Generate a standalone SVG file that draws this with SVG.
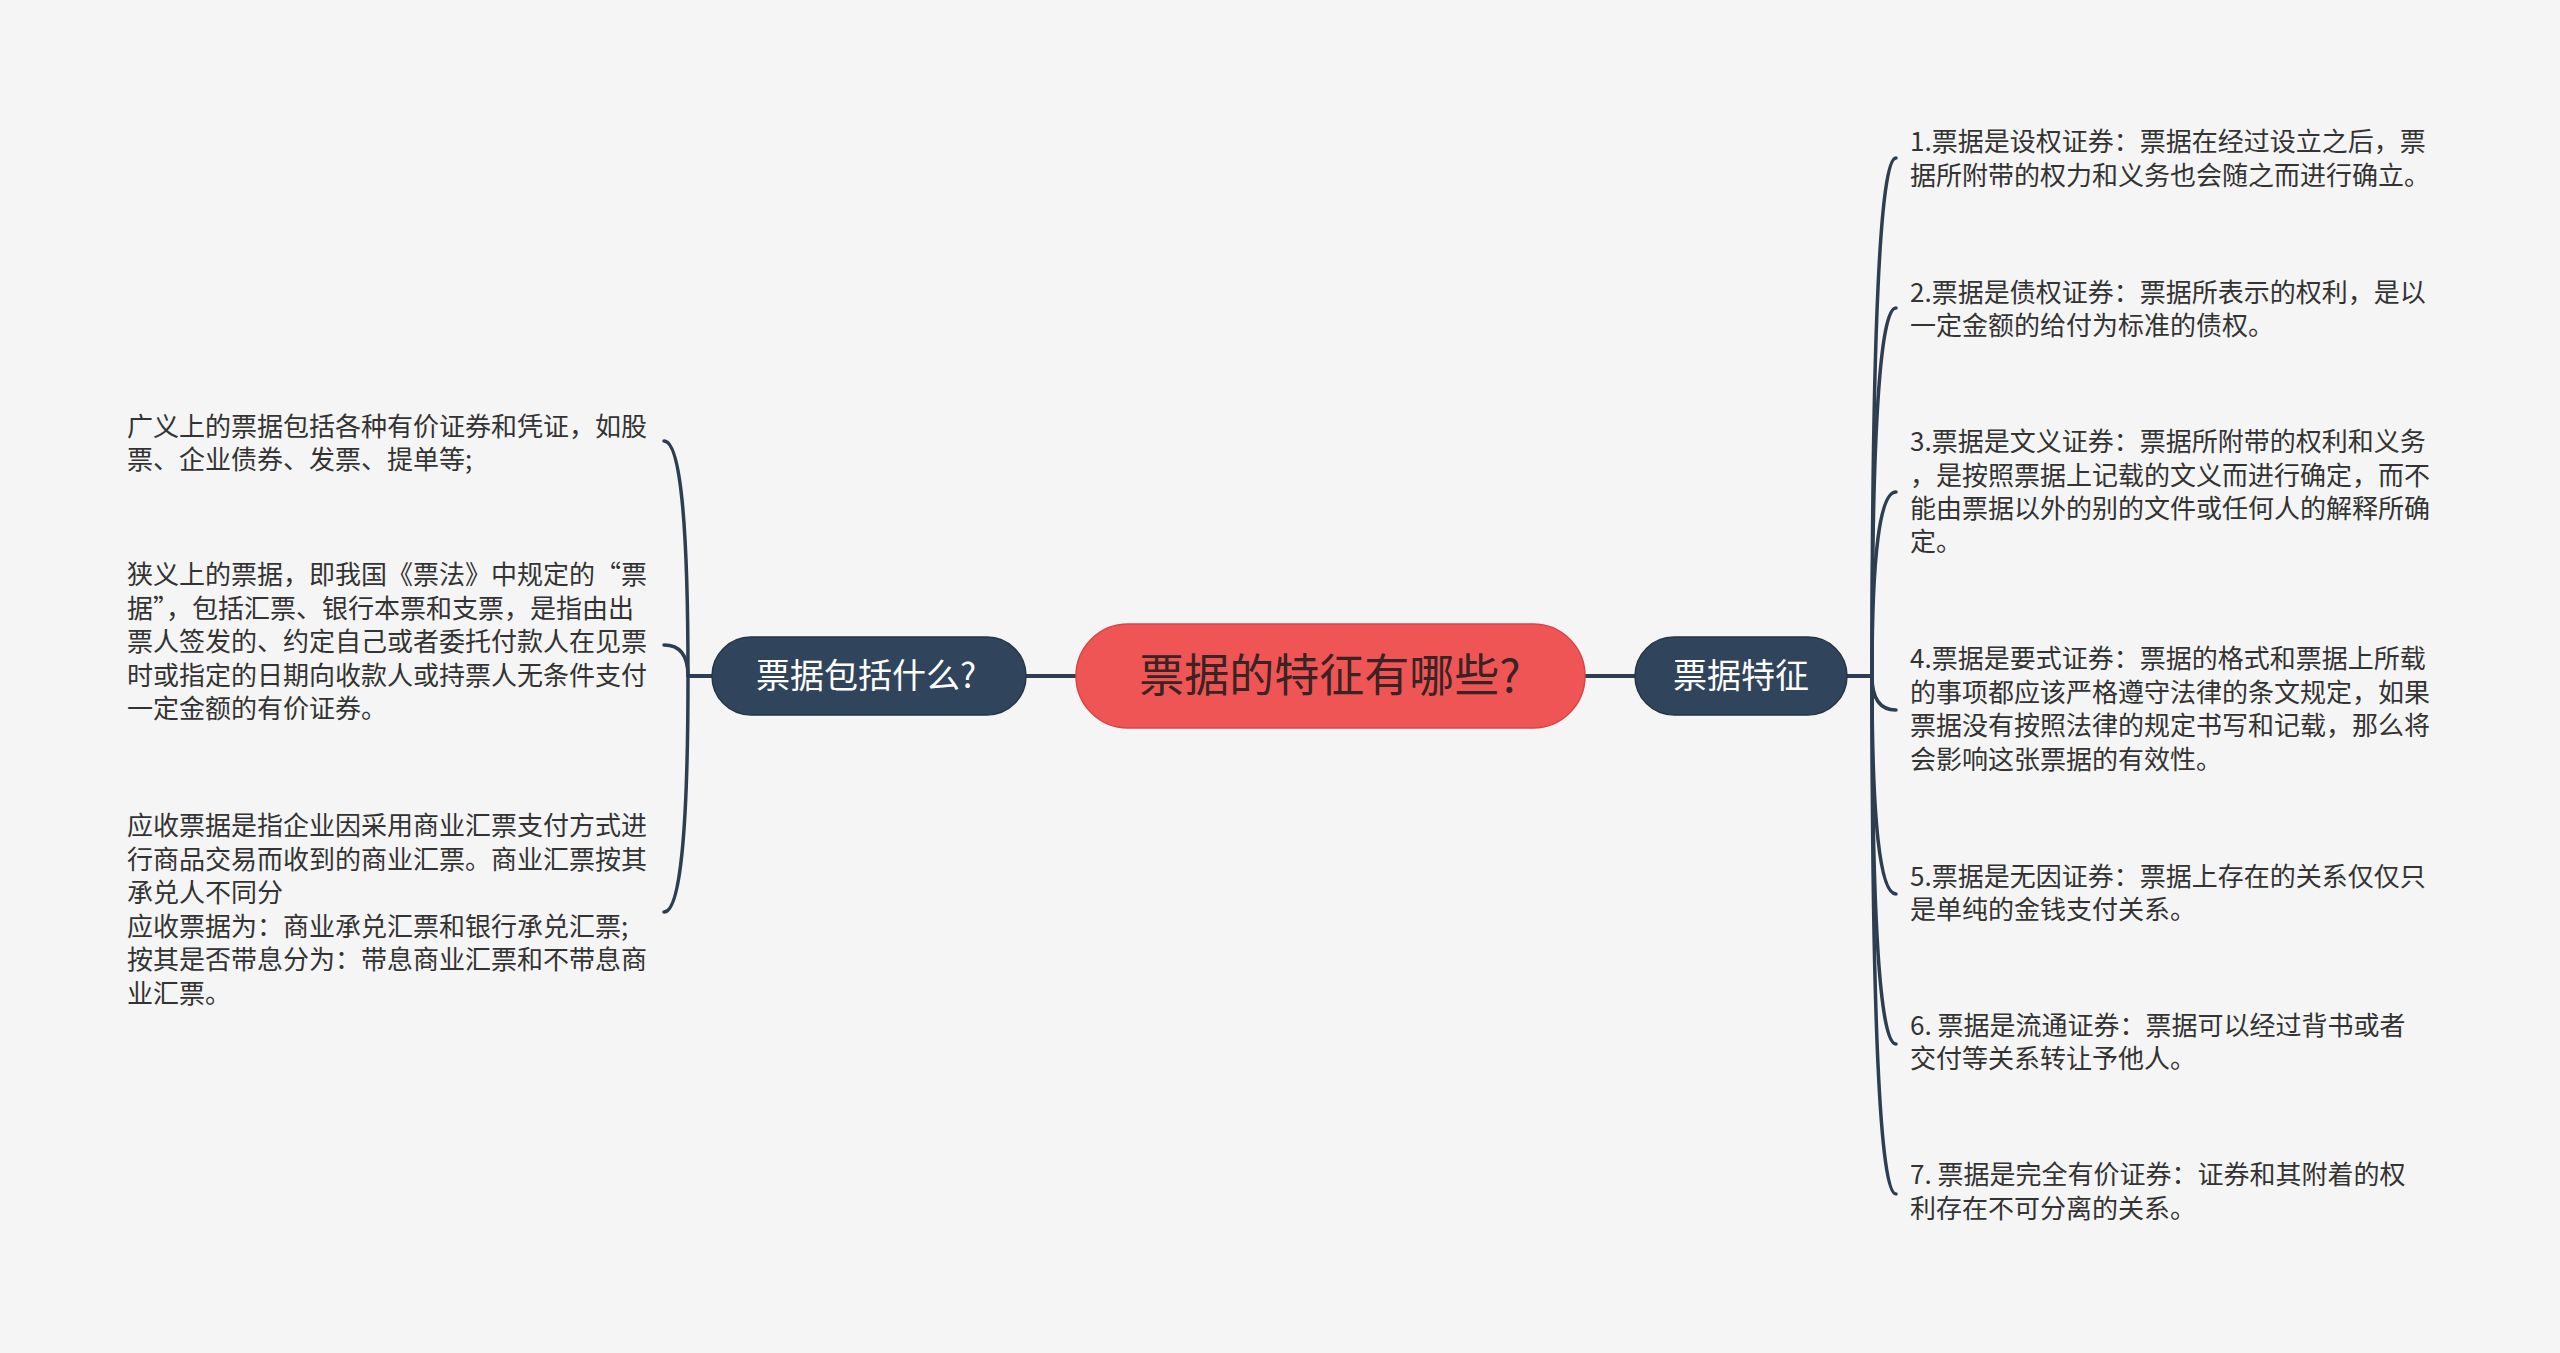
<svg xmlns="http://www.w3.org/2000/svg" width="2560" height="1353" viewBox="0 0 2560 1353">
<style>
.leaf{font-family:"Noto Sans CJK SC","Noto Sans",sans-serif;font-size:26px;fill:#333333}
.main{font-family:"Noto Sans CJK SC","Noto Sans",sans-serif;font-size:34px;fill:#ffffff;text-anchor:middle}
.root{font-family:"Noto Sans CJK SC","Noto Sans",sans-serif;font-size:45px;fill:#3a2323;text-anchor:middle}
.conn{fill:none;stroke:#2c3e50;stroke-width:3.5;stroke-linecap:round}
.bar{fill:none;stroke:#2c3e50;stroke-width:4}
</style>
<rect width="2560" height="1353" fill="#f5f5f5"/>
<g id="connectors">
<line class="bar" x1="1026" y1="676" x2="1076" y2="676"/>
<line class="bar" x1="1585" y1="676" x2="1635" y2="676"/>
<line class="bar" x1="688" y1="676" x2="712" y2="676"/>
<line class="bar" x1="1847" y1="676" x2="1872" y2="676"/>
<path class="conn" d="M688 676 Q688 441 664 441"/>
<path class="conn" d="M688 676 Q688 645 664 645"/>
<path class="conn" d="M688 676 Q688 912 664 912"/>
<path class="conn" d="M1872 676 Q1872 158 1896 158"/>
<path class="conn" d="M1872 676 Q1872 308 1896 308"/>
<path class="conn" d="M1872 676 Q1872 492 1896 492"/>
<path class="conn" d="M1872 676 Q1872 710 1896 710"/>
<path class="conn" d="M1872 676 Q1872 894 1896 894"/>
<path class="conn" d="M1872 676 Q1872 1044 1896 1044"/>
<path class="conn" d="M1872 676 Q1872 1194 1896 1194"/>
</g>
<g id="root">
<rect x="1076" y="624" width="509" height="104" rx="52" fill="#ef5555" stroke="#d94545" stroke-width="1.5"/>
<text class="root" x="1330" y="692">票据的特征有哪些?</text>
</g>
<g id="node-left">
<rect x="712" y="637" width="314" height="78" rx="39" fill="#30455c" stroke="#243547" stroke-width="1.5"/>
<text class="main" x="866" y="688">票据包括什么?</text>
</g>
<g id="node-right">
<rect x="1635" y="637" width="212" height="78" rx="39" fill="#30455c" stroke="#243547" stroke-width="1.5"/>
<text class="main" x="1741" y="688">票据特征</text>
</g>
<g id="leaf-l1">
<text class="leaf"><tspan x="127" y="436">广义上的票据包括各种有价证券和凭证，如股</tspan><tspan x="127" y="469">票、企业债券、发票、提单等;</tspan></text>
</g>
<g id="leaf-l2">
<text class="leaf"><tspan x="127" y="584">狭义上的票据，即我国《票法》中规定的“票</tspan><tspan x="127" y="617.5">据”，包括汇票、银行本票和支票，是指由出</tspan><tspan x="127" y="651">票人签发的、约定自己或者委托付款人在见票</tspan><tspan x="127" y="685">时或指定的日期向收款人或持票人无条件支付</tspan><tspan x="127" y="718">一定金额的有价证券。</tspan></text>
</g>
<g id="leaf-l3">
<text class="leaf"><tspan x="127" y="835">应收票据是指企业因采用商业汇票支付方式进</tspan><tspan x="127" y="868.5">行商品交易而收到的商业汇票。商业汇票按其</tspan><tspan x="127" y="902">承兑人不同分</tspan><tspan x="127" y="936">应收票据为：商业承兑汇票和银行承兑汇票;</tspan><tspan x="127" y="969">按其是否带息分为：带息商业汇票和不带息商</tspan><tspan x="127" y="1003">业汇票。</tspan></text>
</g>
<g id="leaf-r1">
<text class="leaf"><tspan x="1910" y="151">1.票据是设权证券：票据在经过设立之后，票</tspan><tspan x="1910" y="185">据所附带的权力和义务也会随之而进行确立。</tspan></text>
</g>
<g id="leaf-r2">
<text class="leaf"><tspan x="1910" y="302">2.票据是债权证券：票据所表示的权利，是以</tspan><tspan x="1910" y="335">一定金额的给付为标准的债权。</tspan></text>
</g>
<g id="leaf-r3">
<text class="leaf"><tspan x="1910" y="451">3.票据是文义证券：票据所附带的权利和义务</tspan><tspan x="1910" y="485">，是按照票据上记载的文义而进行确定，而不</tspan><tspan x="1910" y="518">能由票据以外的别的文件或任何人的解释所确</tspan><tspan x="1910" y="551">定。</tspan></text>
</g>
<g id="leaf-r4">
<text class="leaf"><tspan x="1910" y="668">4.票据是要式证券：票据的格式和票据上所载</tspan><tspan x="1910" y="702">的事项都应该严格遵守法律的条文规定，如果</tspan><tspan x="1910" y="735">票据没有按照法律的规定书写和记载，那么将</tspan><tspan x="1910" y="769">会影响这张票据的有效性。</tspan></text>
</g>
<g id="leaf-r5">
<text class="leaf"><tspan x="1910" y="886">5.票据是无因证券：票据上存在的关系仅仅只</tspan><tspan x="1910" y="919">是单纯的金钱支付关系。</tspan></text>
</g>
<g id="leaf-r6">
<text class="leaf"><tspan x="1910" y="1034.5">6. 票据是流通证券：票据可以经过背书或者</tspan><tspan x="1910" y="1068">交付等关系转让予他人。</tspan></text>
</g>
<g id="leaf-r7">
<text class="leaf"><tspan x="1910" y="1184">7. 票据是完全有价证券：证券和其附着的权</tspan><tspan x="1910" y="1218">利存在不可分离的关系。</tspan></text>
</g>
</svg>
